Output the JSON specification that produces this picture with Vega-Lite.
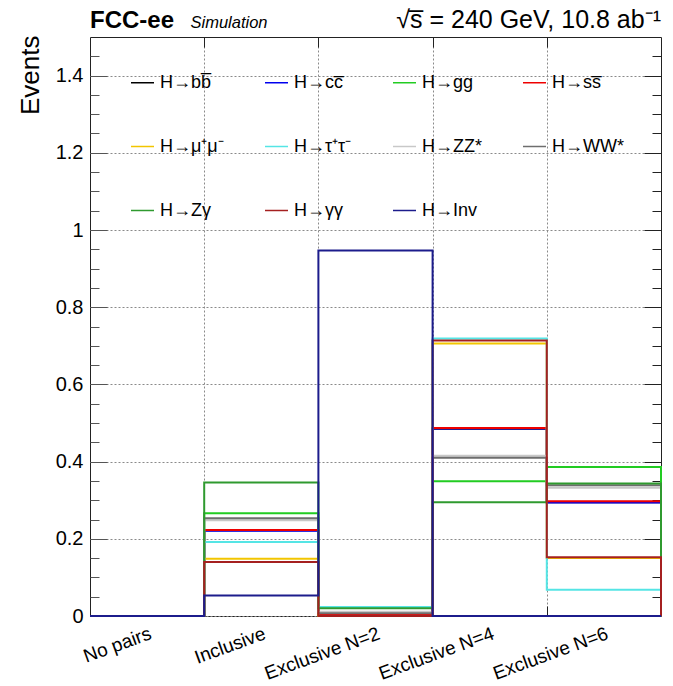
{
  "$schema": "https://vega.github.io/schema/vega-lite/v6.json",
  "width": 571,
  "height": 579,
  "autosize": {"type": "none"},
  "padding": {"left": 90, "top": 37, "right": 12, "bottom": 70},
  "background": "white",
  "config": {
    "font": "Liberation Sans",
    "view": {"stroke": "#222222", "strokeWidth": 1}
  },
  "datasets": {
    "hist": [
      {"ch": "H→bb̅", "bin": 0, "events": 0}, {"ch": "H→bb̅", "bin": 1, "events": 0.222}, {"ch": "H→bb̅", "bin": 2, "events": 0.003}, {"ch": "H→bb̅", "bin": 3, "events": 0.485}, {"ch": "H→bb̅", "bin": 4, "events": 0.295}, {"ch": "H→bb̅", "bin": 5, "events": 0},
      {"ch": "H→cc̅", "bin": 0, "events": 0}, {"ch": "H→cc̅", "bin": 1, "events": 0.221}, {"ch": "H→cc̅", "bin": 2, "events": 0.004}, {"ch": "H→cc̅", "bin": 3, "events": 0.486}, {"ch": "H→cc̅", "bin": 4, "events": 0.294}, {"ch": "H→cc̅", "bin": 5, "events": 0},
      {"ch": "H→gg", "bin": 0, "events": 0}, {"ch": "H→gg", "bin": 1, "events": 0.266}, {"ch": "H→gg", "bin": 2, "events": 0.0}, {"ch": "H→gg", "bin": 3, "events": 0.349}, {"ch": "H→gg", "bin": 4, "events": 0.386}, {"ch": "H→gg", "bin": 5, "events": 0},
      {"ch": "H→ss̅", "bin": 0, "events": 0}, {"ch": "H→ss̅", "bin": 1, "events": 0.223}, {"ch": "H→ss̅", "bin": 2, "events": 0.003}, {"ch": "H→ss̅", "bin": 3, "events": 0.487}, {"ch": "H→ss̅", "bin": 4, "events": 0.297}, {"ch": "H→ss̅", "bin": 5, "events": 0},
      {"ch": "H→μ⁺μ⁻", "bin": 0, "events": 0}, {"ch": "H→μ⁺μ⁻", "bin": 1, "events": 0.148}, {"ch": "H→μ⁺μ⁻", "bin": 2, "events": 0.0}, {"ch": "H→μ⁺μ⁻", "bin": 3, "events": 0.706}, {"ch": "H→μ⁺μ⁻", "bin": 4, "events": 0.150}, {"ch": "H→μ⁺μ⁻", "bin": 5, "events": 0},
      {"ch": "H→τ⁺τ⁻", "bin": 0, "events": 0}, {"ch": "H→τ⁺τ⁻", "bin": 1, "events": 0.192}, {"ch": "H→τ⁺τ⁻", "bin": 2, "events": 0.023}, {"ch": "H→τ⁺τ⁻", "bin": 3, "events": 0.719}, {"ch": "H→τ⁺τ⁻", "bin": 4, "events": 0.068}, {"ch": "H→τ⁺τ⁻", "bin": 5, "events": 0},
      {"ch": "H→ZZ*", "bin": 0, "events": 0}, {"ch": "H→ZZ*", "bin": 1, "events": 0.248}, {"ch": "H→ZZ*", "bin": 2, "events": 0.011}, {"ch": "H→ZZ*", "bin": 3, "events": 0.415}, {"ch": "H→ZZ*", "bin": 4, "events": 0.332}, {"ch": "H→ZZ*", "bin": 5, "events": 0},
      {"ch": "H→WW*", "bin": 0, "events": 0}, {"ch": "H→WW*", "bin": 1, "events": 0.253}, {"ch": "H→WW*", "bin": 2, "events": 0.007}, {"ch": "H→WW*", "bin": 3, "events": 0.410}, {"ch": "H→WW*", "bin": 4, "events": 0.339}, {"ch": "H→WW*", "bin": 5, "events": 0},
      {"ch": "H→Zγ", "bin": 0, "events": 0}, {"ch": "H→Zγ", "bin": 1, "events": 0.346}, {"ch": "H→Zγ", "bin": 2, "events": 0.020}, {"ch": "H→Zγ", "bin": 3, "events": 0.295}, {"ch": "H→Zγ", "bin": 4, "events": 0.343}, {"ch": "H→Zγ", "bin": 5, "events": 0},
      {"ch": "H→γγ", "bin": 0, "events": 0}, {"ch": "H→γγ", "bin": 1, "events": 0.140}, {"ch": "H→γγ", "bin": 2, "events": 0.0}, {"ch": "H→γγ", "bin": 3, "events": 0.714}, {"ch": "H→γγ", "bin": 4, "events": 0.152}, {"ch": "H→γγ", "bin": 5, "events": 0},
      {"ch": "H→Inv", "bin": 0, "events": 0}, {"ch": "H→Inv", "bin": 1, "events": 0.053}, {"ch": "H→Inv", "bin": 2, "events": 0.947}, {"ch": "H→Inv", "bin": 3, "events": 0.0}, {"ch": "H→Inv", "bin": 4, "events": 0.0}, {"ch": "H→Inv", "bin": 5, "events": 0}
    ]
  },
  "layer": [
    {
      "data": {"name": "hist"},
      "mark": {"type": "line", "interpolate": "step-after", "strokeWidth": 2},
      "encoding": {
        "x": {
          "field": "bin", "type": "quantitative",
          "scale": {"domain": [0, 5], "nice": false, "zero": false},
          "axis": {
            "orient": "bottom", "title": null,
            "values": [0.5, 1.5, 2.5, 3.5, 4.5],
            "labelExpr": "['No pairs', 'Inclusive', 'Exclusive N=2', 'Exclusive N=4', 'Exclusive N=6'][floor(datum.value)]",
            "ticks": false, "grid": false, "domain": false,
            "labelAngle": -20, "labelAlign": "right", "labelBaseline": "top",
            "labelPadding": 8, "labelFontSize": 19, "labelColor": "#000000",
            "labelFont": "Liberation Sans", "labelOverlap": false
          }
        },
        "y": {
          "field": "events", "type": "quantitative",
          "scale": {"domain": [0, 1.5], "nice": false},
          "axis": {
            "orient": "left",
            "values": [0, 0.2, 0.4, 0.6, 0.8, 1, 1.2, 1.4],
            "labelExpr": "format(datum.value, '~g')",
            "ticks": false, "domain": false,
            "grid": true, "gridDash": [2, 2], "gridColor": "#8a8a8a", "gridWidth": 1,
            "labelFontSize": 20, "labelPadding": 7, "labelColor": "#000000",
            "title": "Events", "titleFontSize": 26, "titleFontWeight": "normal",
            "titleColor": "#000000", "titleAngle": 270, "titleAlign": "right",
            "titleBaseline": "alphabetic", "titleX": -52, "titleY": -2
          }
        },
        "color": {
          "field": "ch", "type": "nominal",
          "scale": {
            "domain": ["H→bb̅", "H→cc̅", "H→gg", "H→ss̅", "H→μ⁺μ⁻", "H→τ⁺τ⁻", "H→ZZ*", "H→WW*", "H→Zγ", "H→γγ", "H→Inv"],
            "range": ["#000000", "#0000ee", "#22cc22", "#ee0000", "#f2c500", "#55e5e5", "#c8c8c8", "#6e6e6e", "#2f9a2f", "#a52020", "#1c1c8c"]
          },
          "legend": {
            "orient": "none", "legendX": 40, "legendY": 33,
            "direction": "horizontal", "columns": 4, "gridAlign": "each",
            "columnPadding": 38, "rowPadding": 42, "padding": 0,
            "title": null, "symbolType": "stroke", "symbolSize": 529,
            "symbolStrokeWidth": 1.5, "labelFontSize": 18, "labelOffset": 5,
            "labelColor": "#000000", "labelLimit": 200
          }
        }
      }
    },
    {
      "data": {"name": "hist"},
      "mark": {"type": "point", "opacity": 0},
      "encoding": {
        "x": {
          "field": "bin", "type": "quantitative",
          "axis": {
            "orient": "top", "title": null, "values": [1, 2, 3, 4],
            "labels": false, "domain": false, "tickSize": -10, "tickColor": "#222222",
            "grid": true, "gridDash": [2, 2], "gridColor": "#8a8a8a", "gridWidth": 1
          }
        },
        "y": {
          "field": "events", "type": "quantitative",
          "axis": {
            "orient": "right", "title": null,
            "values": [0.05, 0.1, 0.15, 0.2, 0.25, 0.3, 0.35, 0.4, 0.45, 0.5, 0.55, 0.6, 0.65, 0.7, 0.75, 0.8, 0.85, 0.9, 0.95, 1, 1.05, 1.1, 1.15, 1.2, 1.25, 1.3, 1.35, 1.4, 1.45],
            "labels": false, "domain": false, "grid": false, "tickColor": "#222222",
            "tickSize": {"condition": {"test": "abs(datum.value * 5 - round(datum.value * 5)) < 0.001", "value": -17}, "value": -9}
          }
        }
      }
    },
    {
      "data": {"name": "hist"},
      "mark": {"type": "point", "opacity": 0},
      "encoding": {
        "x": {
          "field": "bin", "type": "quantitative",
          "axis": {
            "orient": "bottom", "title": null, "values": [1, 2, 3, 4],
            "labels": false, "domain": false, "tickSize": -10, "tickColor": "#222222", "grid": false
          }
        },
        "y": {
          "field": "events", "type": "quantitative",
          "axis": {
            "orient": "left", "title": null,
            "values": [0.05, 0.1, 0.15, 0.2, 0.25, 0.3, 0.35, 0.4, 0.45, 0.5, 0.55, 0.6, 0.65, 0.7, 0.75, 0.8, 0.85, 0.9, 0.95, 1, 1.05, 1.1, 1.15, 1.2, 1.25, 1.3, 1.35, 1.4, 1.45],
            "labels": false, "domain": false, "grid": false, "tickColor": "#555555",
            "tickSize": {"condition": {"test": "abs(datum.value * 5 - round(datum.value * 5)) < 0.001", "value": -17}, "value": -9}
          }
        }
      }
    },
    {
      "data": {"values": [{"caption": "FCC-ee"}]},
      "mark": {"type": "text", "font": "Liberation Sans", "fontWeight": "bold", "fontSize": 24, "align": "left", "baseline": "alphabetic", "dy": -9, "color": "#000000"},
      "encoding": {
        "x": {"datum": 0, "type": "quantitative", "axis": null},
        "y": {"datum": 1.5, "type": "quantitative", "axis": null},
        "text": {"field": "caption"}
      }
    },
    {
      "data": {"values": [{"caption": "Simulation"}]},
      "mark": {"type": "text", "font": "Liberation Sans", "fontStyle": "italic", "fontSize": 16.5, "align": "left", "baseline": "alphabetic", "dy": -9, "color": "#000000"},
      "encoding": {
        "x": {"datum": 0.88, "type": "quantitative", "axis": null},
        "y": {"datum": 1.5, "type": "quantitative", "axis": null},
        "text": {"field": "caption"}
      }
    },
    {
      "data": {"values": [{"caption": "√s̅ = 240 GeV, 10.8 ab⁻¹"}]},
      "mark": {"type": "text", "font": "Liberation Sans", "fontSize": 25, "align": "right", "baseline": "alphabetic", "dy": -9, "color": "#000000"},
      "encoding": {
        "x": {"datum": 5, "type": "quantitative", "axis": null},
        "y": {"datum": 1.5, "type": "quantitative", "axis": null},
        "text": {"field": "caption"}
      }
    }
  ],
  "resolve": {"axis": {"x": "independent", "y": "independent"}}
}
